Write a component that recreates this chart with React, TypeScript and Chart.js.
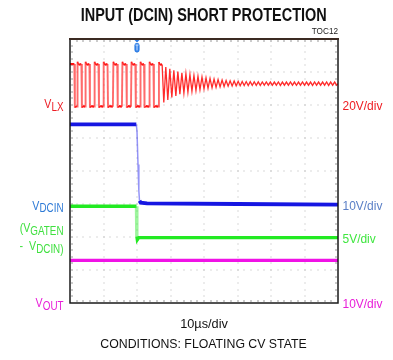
import React, { useEffect, useRef } from "react";
import { Chart, registerables } from "chart.js";

Chart.register(...registerables);

// ---- text ----
const TITLE = "INPUT (DCIN) SHORT PROTECTION";
const FIGURE_ID = "TOC12";
const TIME_SCALE_LABEL = "10µs/div";
const CONDITIONS = "CONDITIONS: FLOATING CV STATE";

// ---- time base (µs) ----
const timeMin = 0;
const timeMax = 80;
const triggerTime = 20;

// ---- channel scales: volts per division and ground level (divisions above bottom) ----
const vlxVoltsPerDiv = 20;
const vlxGroundDiv = 6;
const vdcinVoltsPerDiv = 10;
const vdcinGroundDiv = 3;
const gateVoltsPerDiv = 5;
const gateGroundDiv = 2;
const voutVoltsPerDiv = 10;
const voutGroundDiv = 0;
const divisions = 8;

// ---- traces: [time µs, volts] ----
const vlxPoints: [number, number][] = [
  [0, 24.8], [1.3, 24.8], [1.45, -1.6], [1.8, -0.7],
  [2.1, -1.0], [2.25, 26.2], [2.55, 24.4], [3.4, 24.8], [3.55, -1.6], [3.9, -0.7],
  [4.5, -1.0], [4.65, 26.2], [4.95, 24.4], [5.8, 24.8], [5.95, -1.6], [6.3, -0.7],
  [7.2, -1.0], [7.35, 26.2], [7.65, 24.4], [8.5, 24.8], [8.65, -1.6], [9.0, -0.7],
  [9.9, -1.0], [10.05, 26.2], [10.35, 24.4], [11.2, 24.8], [11.35, -1.6], [11.7, -0.7],
  [12.8, -1.0], [12.95, 26.2], [13.25, 24.4], [14.1, 24.8], [14.25, -1.6], [14.6, -0.7],
  [15.5, -1.0], [15.65, 26.2], [15.95, 24.4], [16.8, 24.8], [16.95, -1.6], [17.3, -0.7],
  [18.2, -1.0], [18.35, 26.2], [18.65, 24.4], [19.5, 24.8], [19.65, -1.6], [20.0, -0.7],
  [20.9, -1.0], [21.05, 26.2], [21.35, 24.4], [22.1, 24.8], [22.25, -1.6], [22.6, -0.7],
  [23.6, -1.0], [23.75, 26.2], [24.05, 24.4], [24.9, 24.8], [25.05, -1.6], [25.4, -0.7],
  [26.4, -1.0], [26.55, 26.0], [26.85, 24.4], [27.5, 24.6],
  [28.0, 1.5], [28.6, 23.0], [29.2, 3.0], [29.8, 22.0], [30.4, 4.5], [31.0, 21.0],
  [31.6, 5.5], [32.2, 20.2], [32.8, 6.5], [33.4, 19.5], [34.0, 7.2], [34.6, 19.0],
  [35.2, 7.8], [35.8, 18.4], [36.4, 8.3], [37.0, 17.9], [37.6, 8.8], [38.2, 17.4],
  [38.8, 9.3], [39.4, 17.0], [40.0, 9.7], [40.6, 16.5], [41.2, 10.1], [41.8, 16.1],
  [42.4, 10.4], [43.0, 15.7], [43.6, 10.7], [44.2, 15.4], [44.8, 11.0], [45.4, 15.1],
  [46.0, 11.2], [46.6, 14.9], [47.2, 11.4], [47.8, 14.7], [48.4, 11.5], [49.0, 14.5],
  [49.6, 11.6], [50.2, 14.4], [50.8, 11.7], [51.4, 14.3], [52.0, 11.8], [52.6, 14.2],
  [53.2, 11.8], [53.8, 14.1], [54.4, 11.9], [55.0, 14.1], [55.6, 11.9], [56.2, 14.0],
  [56.8, 11.9], [57.4, 14.0], [58.0, 12.0], [58.6, 14.0], [59.2, 12.0], [59.8, 13.9],
  [60.4, 12.0], [61.0, 13.9], [61.6, 12.0], [62.2, 14.0], [62.8, 11.9], [63.4, 13.9],
  [64.0, 12.0], [64.6, 13.9], [65.2, 12.0], [65.8, 14.0], [66.4, 12.0], [67.0, 13.9],
  [67.6, 11.9], [68.2, 13.9], [68.8, 12.0], [69.4, 14.0], [70.0, 12.0], [70.6, 13.9],
  [71.2, 12.0], [71.8, 13.9], [72.4, 11.9], [73.0, 14.0], [73.6, 12.0], [74.2, 13.9],
  [74.8, 12.0], [75.4, 13.9], [76.0, 12.0], [76.6, 14.0], [77.2, 11.9], [77.8, 13.9],
  [78.4, 12.0], [79.0, 13.9], [79.6, 12.0], [80.0, 13.0],
];

const vdcinPoints: [number, number][] = [
  [0, 24.1], [19.8, 24.1], [20.0, 22.0], [20.3, 12.0], [20.55, 4.0], [20.75, 1.0],
  [21.1, 0.4], [23.0, 0.2], [50.0, 0.0], [80.0, -0.2],
];

const gateDiffPoints: [number, number][] = [
  [0, 4.65], [19.85, 4.65], [19.95, 0.1], [20.1, -0.4], [20.5, -0.1], [80, -0.1],
];

const voutPoints: [number, number][] = [
  [0, 12.9], [80, 12.9],
];

// ---- colours ----
const RED = "#ff1212";
const RED_EDGE = "rgba(255,50,50,0.72)";
const RED_RING = "rgba(255,20,20,0.9)";
const BLUE = "#1616e2";
const BLUE_EDGE = "rgba(60,60,240,0.55)";
const GREEN = "#22ea22";
const GREEN_EDGE = "rgba(60,235,60,0.5)";
const MAGENTA = "#f012e6";

type Part = { t: string; size: number; dy: number };

function textWidth(ctx: CanvasRenderingContext2D, s: string, font: string, sx: number) {
  ctx.save();
  ctx.font = font;
  const w = ctx.measureText(s).width * sx;
  ctx.restore();
  return w;
}

function drawText(
  ctx: CanvasRenderingContext2D,
  s: string,
  x: number,
  y: number,
  font: string,
  color: string,
  align: "left" | "center" | "right",
  sx = 1
) {
  const w = textWidth(ctx, s, font, sx);
  const x0 = align === "right" ? x - w : align === "center" ? x - w / 2 : x;
  ctx.save();
  ctx.font = font;
  ctx.fillStyle = color;
  ctx.textAlign = "left";
  ctx.textBaseline = "alphabetic";
  ctx.translate(x0, y);
  ctx.scale(sx, 1);
  ctx.fillText(s, 0, 0);
  ctx.restore();
  return w;
}

const LABEL_FAMILY = '"Liberation Sans", Arial, sans-serif';
const LABEL_SX = 0.82;

// right-aligned label made of main text and subscripts
function drawSubLabel(
  ctx: CanvasRenderingContext2D,
  parts: Part[],
  right: number,
  baseline: number,
  color: string
) {
  const widths = parts.map((p) => textWidth(ctx, p.t, `${p.size}px ${LABEL_FAMILY}`, LABEL_SX));
  let x = right - widths.reduce((a, b) => a + b, 0);
  parts.forEach((p, i) => {
    drawText(ctx, p.t, x, baseline + p.dy, `${p.size}px ${LABEL_FAMILY}`, color, "left", LABEL_SX);
    x += widths[i];
  });
}

const M = 13;
const S = 12;

const scopePlugin = {
  id: "scopeDecor",
  beforeDatasetsDraw(chart: any) {
    const { ctx, chartArea } = chart;
    const { left, right, top, bottom } = chartArea;
    const w = right - left;
    const h = bottom - top;
    const dx = w / divisions;
    const dy = h / divisions;
    ctx.save();
    ctx.fillStyle = "#b4b4b4";
    // dotted major grid lines, one dot every fifth of a division
    for (let i = 1; i < divisions; i++) {
      const x = left + i * dx;
      for (let k = 1; k < divisions * 5; k++) {
        ctx.fillRect(Math.round(x) - 0.5, Math.round(top + (k * dy) / 5) - 0.5, 1, 1);
      }
      const y = top + i * dy;
      for (let k = 1; k < divisions * 5; k++) {
        ctx.fillRect(Math.round(left + (k * dx) / 5) - 0.5, Math.round(y) - 0.5, 1, 1);
      }
    }
    // inner edge ticks
    ctx.fillStyle = "#9a9a9a";
    for (let k = 1; k < divisions * 5; k++) {
      const x = Math.round(left + (k * dx) / 5);
      ctx.fillRect(x - 0.5, top + 1, 1, 2);
      ctx.fillRect(x - 0.5, bottom - 3, 1, 2);
      const y = Math.round(top + (k * dy) / 5);
      ctx.fillRect(left + 1, y - 0.5, 2, 1);
      ctx.fillRect(right - 3, y - 0.5, 2, 1);
    }
    ctx.restore();
  },
  afterDatasetsDraw(chart: any) {
    const { ctx, chartArea, scales } = chart;
    const { left, right, top, bottom } = chartArea;
    ctx.save();
    // frame
    ctx.strokeStyle = "#1a1a1a";
    ctx.lineWidth = 1.5;
    ctx.strokeRect(left, top, right - left, bottom - top);
    ctx.strokeStyle = "#3b2a22";
    ctx.lineWidth = 2;
    ctx.beginPath();
    ctx.moveTo(left - 1, top);
    ctx.lineTo(right + 1, top);
    ctx.stroke();

    // trigger marker
    const tx = scales.x.getPixelForValue(triggerTime);
    ctx.fillStyle = "#2f7fe6";
    ctx.beginPath();
    ctx.moveTo(tx - 2.5, top + 1);
    ctx.lineTo(tx + 2.5, top + 1);
    ctx.lineTo(tx, top + 3.5);
    ctx.closePath();
    ctx.fill();
    ctx.beginPath();
    (ctx as any).roundRect(tx - 2.6, top + 4, 5.2, 9.5, 2.4);
    ctx.fill();
    ctx.strokeStyle = "#cfe2ff";
    ctx.lineWidth = 1;
    ctx.beginPath();
    ctx.moveTo(tx - 1.5, top + 6);
    ctx.lineTo(tx + 1.5, top + 6);
    ctx.moveTo(tx, top + 6);
    ctx.lineTo(tx, top + 11.5);
    ctx.stroke();
    ctx.restore();

    // title and captions
    const titleFont = 'bold 18.5px "Liberation Sans", Arial, sans-serif';
    const tw = textWidth(ctx, TITLE, titleFont, 1);
    drawText(ctx, TITLE, 203.7, 20.7, titleFont, "#111", "center", 246 / tw);
    drawText(ctx, FIGURE_ID, right, 33.5, `8.2px ${LABEL_FAMILY}`, "#222", "right");
    drawText(ctx, TIME_SCALE_LABEL, (left + right) / 2, 327.5, `12.5px ${LABEL_FAMILY}`, "#111", "center", 1.02);
    drawText(ctx, CONDITIONS, (left + right) / 2 - 0.5, 347.5, `12.3px ${LABEL_FAMILY}`, "#111", "center");

    // channel names, at each channel's ground level
    const lx = left - 6.5;
    const yLx = scales.yLx.getPixelForValue(0);
    const yDc = scales.yDcin.getPixelForValue(0);
    const yGt = scales.yGate.getPixelForValue(0);
    const yOut = scales.yOut.getPixelForValue(0);
    drawSubLabel(ctx, [{ t: "V", size: M, dy: 0 }, { t: "LX", size: S, dy: 2.5 }], lx, yLx + 3, "#ec1c24");
    drawSubLabel(ctx, [{ t: "V", size: M, dy: 0 }, { t: "DCIN", size: S, dy: 2 }], lx, yDc + 6, "#2e7ad6");
    drawSubLabel(ctx, [{ t: "(V", size: M, dy: 0 }, { t: "GATEN", size: S, dy: 2.5 }], lx, yGt - 5, "#3fe03f");
    drawSubLabel(ctx, [{ t: "-  V", size: M, dy: 0 }, { t: "DCIN)", size: S, dy: 3 }], lx, yGt + 13, "#3fe03f");
    drawSubLabel(ctx, [{ t: "V", size: M, dy: 0 }, { t: "OUT", size: S, dy: 3 }], lx, yOut + 4, "#e81ed8");

    // volts per division
    const rx = right + 4.5;
    const divFont = `13px ${LABEL_FAMILY}`;
    drawText(ctx, `${vlxVoltsPerDiv}V/div`, rx, yLx + 4.8, divFont, "#ee1c22", "left", 0.92);
    drawText(ctx, `${vdcinVoltsPerDiv}V/div`, rx, yDc + 6.3, divFont, "#5a7fc6", "left", 0.92);
    drawText(ctx, `${gateVoltsPerDiv}V/div`, rx, yGt + 5.7, divFont, "#3fe63f", "left", 0.92);
    drawText(ctx, `${voutVoltsPerDiv}V/div`, rx, yOut + 5, divFont, "#e81ed8", "left", 0.92);
  },
};

const slopeOf = (c: any) =>
  Math.abs(c.p1.parsed.y - c.p0.parsed.y) / Math.max(c.p1.parsed.x - c.p0.parsed.x, 1e-6);

function edgeColor(base: string, edge: string, slope: number) {
  return (c: any) => (slopeOf(c) > slope ? edge : base);
}

function axisFor(voltsPerDiv: number, groundDiv: number) {
  return {
    type: "linear" as const,
    display: false,
    min: -groundDiv * voltsPerDiv,
    max: (divisions - groundDiv) * voltsPerDiv,
  };
}

export default function App() {
  const canvasRef = useRef<HTMLCanvasElement | null>(null);

  useEffect(() => {
    document.body.style.margin = "0";
    const canvas = canvasRef.current;
    if (!canvas) return;
    const toXY = (pts: [number, number][]) => pts.map(([x, y]) => ({ x, y }));
    const chart = new Chart(canvas, {
      type: "line",
      data: {
        datasets: [
          {
            label: "VOUT",
            data: toXY(voutPoints),
            yAxisID: "yOut",
            borderColor: MAGENTA,
            borderWidth: 3.2,
            pointRadius: 0,
          },
          {
            label: "VGATEN - VDCIN",
            data: toXY(gateDiffPoints),
            yAxisID: "yGate",
            borderColor: GREEN,
            borderWidth: 3.4,
            pointRadius: 0,
            segment: { borderColor: edgeColor(GREEN, GREEN_EDGE, 20) },
          },
          {
            label: "VDCIN",
            data: toXY(vdcinPoints),
            yAxisID: "yDcin",
            borderColor: BLUE,
            borderWidth: 3.8,
            pointRadius: 0,
            segment: {
              borderColor: edgeColor(BLUE, BLUE_EDGE, 8),
              borderWidth: (c: any) => (slopeOf(c) > 8 ? 1.5 : 3.8),
            },
          },
          {
            label: "VLX",
            data: toXY(vlxPoints),
            yAxisID: "yLx",
            borderColor: RED,
            borderWidth: 2.2,
            pointRadius: 0,
            segment: {
              // fast switching edges fade, ringing is drawn thinner than the plateaus
              borderColor: (c: any) => {
                const s = slopeOf(c);
                return s > 60 ? RED_EDGE : s > 2 ? RED_RING : RED;
              },
              borderWidth: (c: any) => {
                const s = slopeOf(c);
                return s > 60 ? 1.9 : s > 2 ? 1.3 : 2.2;
              },
            },
          },
        ],
      },
      options: {
        responsive: false,
        animation: false,
        events: [],
        layout: { padding: { left: 70, top: 39, right: 55, bottom: 57 } },
        plugins: {
          legend: { display: false },
          tooltip: { enabled: false },
          title: { display: false },
        },
        scales: {
          x: { type: "linear", display: false, min: timeMin, max: timeMax },
          yLx: axisFor(vlxVoltsPerDiv, vlxGroundDiv),
          yDcin: axisFor(vdcinVoltsPerDiv, vdcinGroundDiv),
          yGate: axisFor(gateVoltsPerDiv, gateGroundDiv),
          yOut: axisFor(voutVoltsPerDiv, voutGroundDiv),
        },
      },
      plugins: [scopePlugin],
    });
    return () => chart.destroy();
  }, []);

  return (
    <div style={{ width: 393, height: 360, background: "#fff" }}>
      <canvas ref={canvasRef} width={393} height={360} style={{ display: "block" }} />
    </div>
  );
}
